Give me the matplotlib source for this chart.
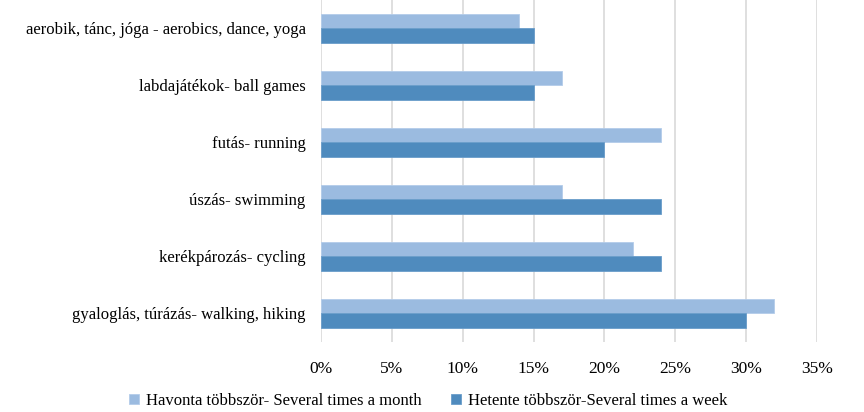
import matplotlib.pyplot as plt
import numpy as np

categories = ["aerobik, tánc, jóga - aerobics, dance, yoga",
              "labdajátékok- ball games",
              "futás- running",
              "úszás- swimming",
              "kerékpározás- cycling",
              "gyaloglás, túrázás- walking, hiking"]
monthly = [14, 17, 24, 17, 22, 32]
weekly = [15, 15, 20, 24, 24, 30]
series_names = ["Havonta többször- Several times a month",
                "Hetente többször-Several times a week"]
xticks = [0, 5, 10, 15, 20, 25, 30, 35]

plt.rcParams['font.family'] = ['Liberation Serif', 'DejaVu Serif']

fig = plt.figure(figsize=(8.64, 4.12), dpi=100)
ax = fig.add_axes([0.3715, 0.17, 0.574, 0.83])

y = np.arange(len(categories))
h = 0.26
ax.barh(y - h / 2, monthly, height=h, color='#9BBBE0', edgecolor='#B3CCEA',
        linewidth=0.6, label=series_names[0], zorder=3)
ax.barh(y + h / 2, weekly, height=h, color='#4F8BBE', edgecolor='#6A9DCA',
        linewidth=0.6, label=series_names[1], zorder=3)

ax.set_ylim(len(categories) - 0.5, -0.5)
ax.set_xlim(0, 35)
ax.set_yticks(y)
ax.set_yticklabels(categories, fontsize=12)
ax.set_xticks(xticks)
ax.set_xticklabels([f"{t}%" for t in xticks], fontsize=12.5)
ax.tick_params(length=0)
ax.tick_params(axis='x', pad=14)
ax.tick_params(axis='y', pad=11)
ax.grid(axis='x', color='#D9D9D9', linewidth=1.2, zorder=0)
for s in ax.spines.values():
    s.set_visible(False)

ax.legend(loc='upper center', bbox_to_anchor=(0.216, -0.125), ncol=2, frameon=False,
          fontsize=12, handlelength=0.6, handleheight=0.6, handletextpad=0.4,
          columnspacing=1.8, borderpad=0)

fig.savefig("out.png", dpi=100)
